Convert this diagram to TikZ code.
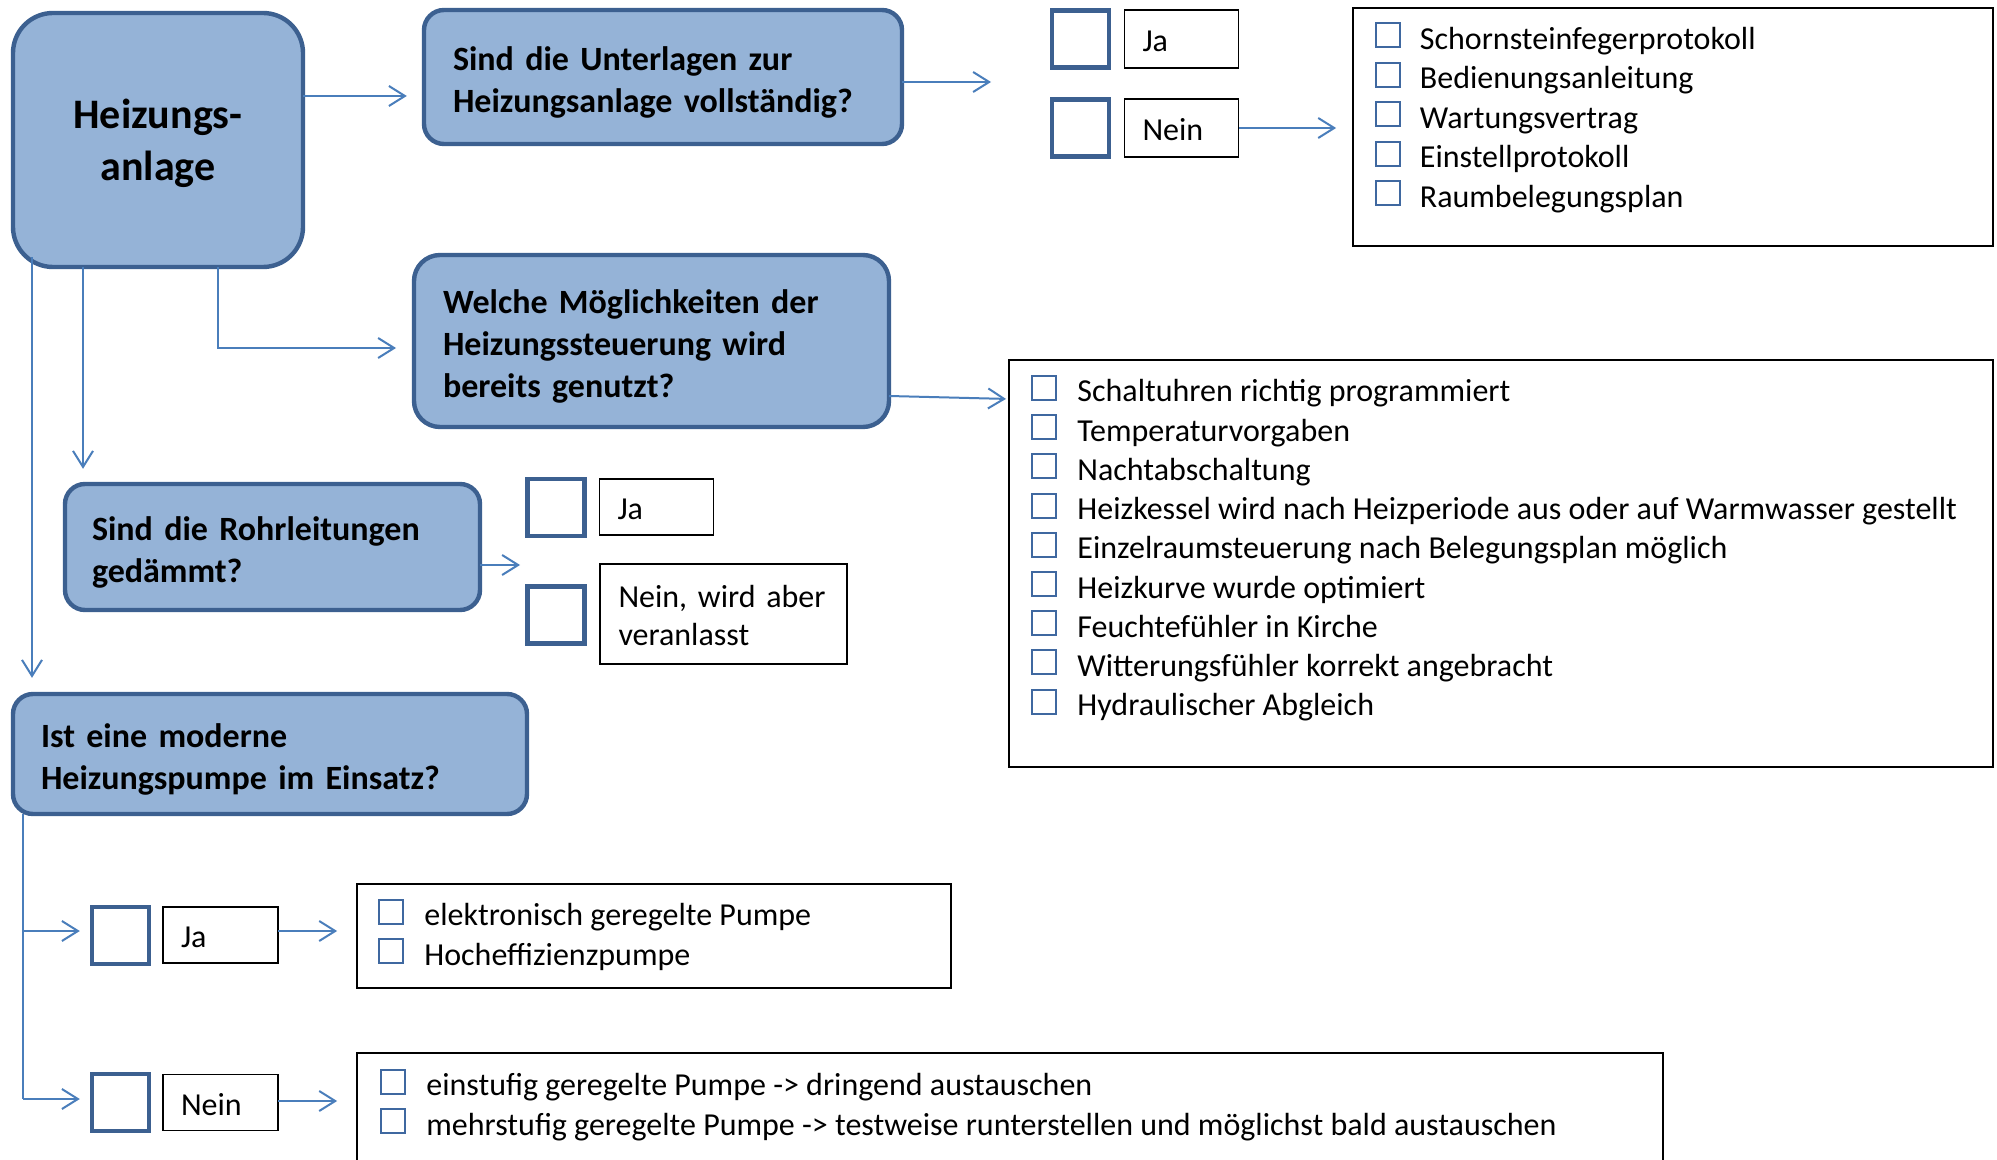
\documentclass[tikz,border=0pt]{standalone}
\usepackage{fontspec}
\setmainfont{Carlito}
\usetikzlibrary{arrows.meta,calc}
\definecolor{qfill}{HTML}{95B3D7}
\definecolor{qdraw}{HTML}{3C6090}
\definecolor{arrowc}{HTML}{4A7EBB}
\definecolor{cbox}{HTML}{3F68A0}
\newcommand{\qstrut}{\rule{0pt}{17pt}}
\newcommand{\astrut}{\rule{0pt}{13pt}}
\tikzset{
 qbox/.style={draw=qdraw, fill=qfill, line width=2.2pt, rounded corners=10pt, align=left, font=\bfseries\fontsize{17}{21}\selectfont},
 bigsq/.style={draw=qdraw, line width=2.2pt, minimum width=28.5pt, minimum height=28.5pt, inner sep=0pt},
 ansbox/.style={draw=black, line width=0.9pt, align=left, inner xsep=9pt, text width=39pt, font=\fontsize{16}{19}\selectfont},
 listbox/.style={draw=black, line width=0.9pt, inner sep=0pt},
 cb/.style={draw=cbox, line width=1pt, minimum size=12pt, inner sep=0pt, anchor=south west},
 itm/.style={anchor=base west, inner sep=0pt, font=\fontsize{16}{19}\selectfont},
 arr/.style={draw=arrowc, line width=1pt, -{Straight Barb[length=8pt,width=10pt]}},
 ln/.style={draw=arrowc, line width=1pt},
}
\begin{document}
\begin{tikzpicture}[x=0.5pt,y=-0.5pt]
\clip (0,0) rectangle (1997,1160);
\fill[white] (0,0) rectangle (1997,1160);

% question boxes
\node[qbox, rounded corners=20pt, minimum width=145pt, minimum height=127pt] (H) at (158,140) {};
\node[align=center, inner sep=0pt, font=\bfseries\fontsize{21}{26}\selectfont] (Htxt) at (158,143) {Heizungs-\\anlage};
\node[qbox, inner xsep=14.5pt, text width=210pt, minimum height=67pt] (A) at (663,77) {\qstrut Sind die Unterlagen zur\\Heizungsanlage vollständig?};
\node[qbox, inner xsep=14.5pt, text width=208.5pt, minimum height=86pt, rounded corners=13pt] (B) at (651.5,341) {\qstrut Welche Möglichkeiten der\\Heizungssteuerung wird\\bereits genutzt?};
\node[qbox, inner xsep=13.5pt, text width=180.5pt, minimum height=63pt] (C) at (272.5,547) {\qstrut Sind die Rohrleitungen\\gedämmt?};
\node[qbox, inner xsep=14pt, text width=229pt, minimum height=60pt] (D) at (270,754) {\qstrut Ist eine moderne\\Heizungspumpe im Einsatz?};

% answer squares and boxes
\node[bigsq] (sqA1) at (1080.5,39) {};
\node[ansbox, minimum height=29pt] (jaA) at (1181.5,39) {\astrut Ja};
\node[bigsq] (sqA2) at (1080.5,128) {};
\node[ansbox, minimum height=29pt] (neinA) at (1181.5,128) {\astrut Nein};

\node[bigsq] (sqC1) at (556,507.5) {};
\node[ansbox, minimum height=28pt] (jaC) at (656.5,507) {\astrut Ja};
\node[bigsq] (sqC2) at (556,615) {};
\node[ansbox, inner xsep=9.25pt, text width=105pt, minimum height=50pt] (neinC) at (723.5,614) {\astrut Nein, wird aber\\veranlasst};

\node[bigsq] (sqJ) at (120.5,935.5) {};
\node[ansbox, text width=39.5pt, minimum height=28pt] (jaD) at (220.5,935) {\astrut Ja};
\node[bigsq] (sqN) at (120.5,1102.5) {};
\node[ansbox, text width=39.5pt, minimum height=28pt] (neinD) at (220.5,1102.5) {\astrut Nein};

% list boxes
\node[listbox, minimum width=320pt, minimum height=119pt] (L1) at (1673,127) {};
\node[listbox, minimum width=492pt, minimum height=203.5pt] (L2) at (1501,563.5) {};
\node[listbox, minimum width=297pt, minimum height=52pt] (L3) at (654,936) {};
\node[listbox, minimum width=653pt, minimum height=73.5pt] (L4) at (1010,1126.5) {};

\foreach [count=\i] \t in {Schornsteinfegerprotokoll,Bedienungsanleitung,Wartungsvertrag,Einstellprotokoll,Raumbelegungsplan}{
  \pgfmathsetmacro\yb{49.5+39.5*(\i-1)}
  \node[cb] (l1c\i) at (1375,\yb-1) {};
  \node[itm] (l1t\i) at (1419.5,\yb) {\t};
}
\foreach [count=\i] \t in {Schaltuhren richtig programmiert,Temperaturvorgaben,Nachtabschaltung,Heizkessel wird nach Heizperiode aus oder auf Warmwasser gestellt,Einzelraumsteuerung nach Belegungsplan möglich,Heizkurve wurde optimiert,Feuchtefühler in Kirche,Witterungsfühler korrekt angebracht,Hydraulischer Abgleich}{
  \pgfmathsetmacro\yb{402+39.2*(\i-1)}
  \node[cb] (l2c\i) at (1031,\yb-1) {};
  \node[itm] (l2t\i) at (1077,\yb) {\t};
}
\foreach [count=\i] \t in {elektronisch geregelte Pumpe,Hocheffizienzpumpe}{
  \pgfmathsetmacro\yb{925.5+39.5*(\i-1)}
  \node[cb] (l3c\i) at (378,\yb-1) {};
  \node[itm] (l3t\i) at (424,\yb) {\t};
}
\foreach [count=\i] \t in {einstufig geregelte Pumpe -> dringend austauschen,mehrstufig geregelte Pumpe -> testweise runterstellen und möglichst bald austauschen}{
  \pgfmathsetmacro\yb{1095.5+39.5*(\i-1)}
  \node[cb] (l4c\i) at (380,\yb-1) {};
  \node[itm] (l4t\i) at (426,\yb) {\t};
}

% connectors
\coordinate (hA) at (303,96);
\draw[arr, shorten >=7.5pt] (hA) -- (hA -| A.west);
\coordinate (hB) at (218,267);
\coordinate (hBend) at (414,348);
\draw[arr, shorten >=9pt] (hB) |- (hBend);
\coordinate (hC) at (83,267);
\draw[arr, shorten >=6.5pt] (hC) -- (hC |- C.north);
\coordinate (hD) at (32,257);
\draw[arr, shorten >=7pt] (hD) -- (hD |- D.north);

\coordinate (aOut) at (902,82);
\coordinate (aEnd) at (991,82);
\draw[arr] (aOut) -- (aEnd);
\draw[arr, shorten >=8pt] (neinA.east) -- (neinA.east -| L1.west);

\coordinate (bOut) at (889,396);
\coordinate (bEnd) at (1009,399);
\draw[arr, shorten >=1.5pt] (bOut) -- (bEnd);

\coordinate (cOut) at (480,565);
\coordinate (cEnd) at (520,565);
\draw[arr] (cOut) -- (cEnd);

\coordinate (dOut) at (23,814);
\coordinate (dJ) at (23,931);
\coordinate (dN) at (23,1099);
\draw[ln] (dOut) -- (dN);
\draw[arr, shorten >=5pt] (dJ) -- (dJ -| sqJ.west);
\draw[arr, shorten >=5pt] (dN) -- (dN -| sqN.west);

\coordinate (jOut) at (278,931);
\draw[arr, shorten >=9.5pt] (jOut) -- (jOut -| L3.west);
\coordinate (nOut) at (278,1101);
\draw[arr, shorten >=9.5pt] (nOut) -- (nOut -| L4.west);
\end{tikzpicture}
\end{document}
